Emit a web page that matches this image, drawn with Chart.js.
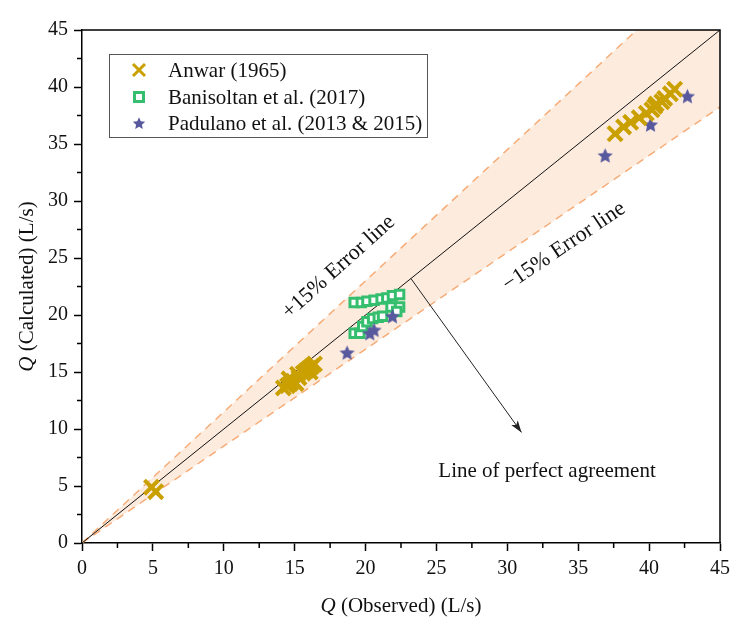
<!DOCTYPE html>
<html>
<head>
<meta charset="utf-8">
<script src="https://cdn.jsdelivr.net/npm/chart.js@4.4.1/dist/chart.umd.min.js"></script>
<style>
  body { margin: 0; background: #fff; }
  canvas { display: block; }
</style>
</head>
<body>
<canvas id="myChart" width="736" height="626"></canvas>
<script>

// data
var anwarX = [4.9, 5.2, 14.2, 14.5, 14.7, 14.9, 15.1, 15.3, 15.6, 15.8, 16.0, 16.2, 16.4, 16.1, 14.6, 15.2,
  37.6, 38.2, 38.7, 39.3, 39.8, 40.2, 40.5, 40.9, 41.1, 41.5, 41.8, 40.4];
var anwarY = [4.9, 4.5, 13.6, 13.8, 14.0, 14.2, 14.0, 14.5, 14.9, 15.1, 15.3, 15.5, 15.7, 15.0, 14.4, 14.8,
  35.9, 36.5, 36.9, 37.3, 37.7, 38.0, 38.5, 38.7, 39.0, 39.4, 39.8, 38.3];

var banisoltanX = [19.2, 19.7, 20.1, 20.6, 21.1, 21.5, 21.9, 22.4, 19.2, 19.6, 19.8, 20.1, 20.5, 20.9, 21.2, 21.8, 22.4, 22.2];
var banisoltanY = [21.1, 21.1, 21.2, 21.3, 21.4, 21.5, 21.7, 21.8, 18.4, 18.4, 19.0, 19.4, 19.7, 19.8, 19.9, 20.7, 20.7, 20.3];

var padulanoX = [18.7, 20.3, 20.6, 21.9, 36.9, 40.1, 42.7];
var padulanoY = [16.7, 18.4, 18.7, 19.9, 34.0, 36.7, 39.2];

var seriesNames = ["Anwar (1965)", "Banisoltan et al. (2017)", "Padulano et al. (2013 & 2015)"];

// reference lines
var lineX = [0, 45];
var perfectY = [0, 45];
var upperY = [0, 51.75];   // +15 %
var lowerY = [0, 38.25];   // -15 %

var arrowFrom = [23.2, 23.2];
var arrowTo = [31.0, 9.7];

var xTicks = [0, 5, 10, 15, 20, 25, 30, 35, 40, 45];
var yTicks = [0, 5, 10, 15, 20, 25, 30, 35, 40, 45];

var FONT = "'Liberation Serif', 'Times New Roman', serif";
var gold = "rgb(201,160,0)";
var green = "rgb(52,190,110)";
var blue = "rgb(88,88,158)";
var bandLine = "rgb(246,172,120)";

function pts(xs, ys) {
  var out = [];
  for (var i = 0; i < xs.length; i++) {
    out.push({ x: xs[i], y: ys[i] });
  }
  return out;
}

function makeStar(size, color) {
  var c = document.createElement("canvas");
  c.width = size; c.height = size;
  var g = c.getContext("2d");
  var cx = size / 2, cy = size / 2 + 0.7, R = size / 2 - 0.5, r = R * 0.47;
  g.beginPath();
  for (var i = 0; i < 10; i++) {
    var a = -Math.PI / 2 + i * Math.PI / 5;
    var rr = (i % 2 === 0) ? R : r;
    var px = cx + rr * Math.cos(a), py = cy + rr * Math.sin(a);
    if (i === 0) g.moveTo(px, py); else g.lineTo(px, py);
  }
  g.closePath();
  g.fillStyle = color;
  g.fill();
  return c;
}

var starImg = makeStar(17, blue);
var starSmall = makeStar(14, blue);

var extras = {
  id: "extras",
  afterDraw: function (chart) {
    var ctx = chart.ctx;
    var a = chart.chartArea;
    var xs = chart.scales.x, ys = chart.scales.y;
    ctx.save();

    // frame top/right
    ctx.strokeStyle = "#000";
    ctx.lineWidth = 1.5;
    ctx.beginPath();
    ctx.moveTo(a.left, a.top);
    ctx.lineTo(a.right, a.top);
    ctx.lineTo(a.right, a.bottom);
    ctx.stroke();

    // minor ticks
    ctx.lineWidth = 1.5;
    ctx.beginPath();
    for (var v = 2.5; v < 45; v += 5) {
      var px = xs.getPixelForValue(v);
      ctx.moveTo(px, a.bottom);
      ctx.lineTo(px, a.bottom + 5);
      var py = ys.getPixelForValue(v);
      ctx.moveTo(a.left, py);
      ctx.lineTo(a.left - 5, py);
    }
    ctx.stroke();

    // arrow
    var x1 = xs.getPixelForValue(arrowFrom[0]), y1 = ys.getPixelForValue(arrowFrom[1]);
    var x2 = xs.getPixelForValue(arrowTo[0]), y2 = ys.getPixelForValue(arrowTo[1]);
    ctx.strokeStyle = "#222";
    ctx.lineWidth = 1;
    ctx.beginPath();
    ctx.moveTo(x1, y1);
    ctx.lineTo(x2, y2);
    ctx.stroke();
    var ang = Math.atan2(y2 - y1, x2 - x1);
    ctx.fillStyle = "#222";
    ctx.beginPath();
    ctx.moveTo(x2, y2);
    ctx.lineTo(x2 - 12 * Math.cos(ang) + 4 * Math.sin(ang), y2 - 12 * Math.sin(ang) - 4 * Math.cos(ang));
    ctx.lineTo(x2 - 9 * Math.cos(ang), y2 - 9 * Math.sin(ang));
    ctx.lineTo(x2 - 12 * Math.cos(ang) - 4 * Math.sin(ang), y2 - 12 * Math.sin(ang) + 4 * Math.cos(ang));
    ctx.closePath();
    ctx.fill();

    // annotations
    ctx.fillStyle = "#111";
    ctx.textAlign = "center";
    ctx.textBaseline = "middle";
    ctx.font = "22px " + FONT;
    ctx.save();
    ctx.translate(xs.getPixelForValue(18.1), ys.getPixelForValue(24.2));
    ctx.rotate(-42 * Math.PI / 180);
    ctx.fillText("+15% Error line", 0, 0);
    ctx.restore();

    ctx.save();
    ctx.translate(xs.getPixelForValue(34.0), ys.getPixelForValue(26.0));
    ctx.rotate(-34 * Math.PI / 180);
    ctx.fillText("\u221215% Error line", 0, 0);
    ctx.restore();

    ctx.font = "21px " + FONT;
    ctx.fillText("Line of perfect agreement", xs.getPixelForValue(32.8), ys.getPixelForValue(6.3));

    // axis titles
    function mixed(text1, text2, cx, cy) {
      ctx.font = "italic 21px " + FONT;
      var w1 = ctx.measureText(text1).width;
      ctx.font = "21px " + FONT;
      var w2 = ctx.measureText(text2).width;
      var sx = cx - (w1 + w2) / 2;
      ctx.textAlign = "left";
      ctx.font = "italic 21px " + FONT;
      ctx.fillText(text1, sx, cy);
      ctx.font = "21px " + FONT;
      ctx.fillText(text2, sx + w1, cy);
    }
    mixed("Q", " (Observed) (L/s)", (a.left + a.right) / 2, 606);
    ctx.save();
    ctx.translate(27, (a.top + a.bottom) / 2);
    ctx.rotate(-Math.PI / 2);
    mixed("Q", " (Calculated) (L/s)", 0, 0);
    ctx.restore();

    // legend
    var lx = 109, ly = 54, lw = 318, lh = 83;
    ctx.fillStyle = "#fff";
    ctx.fillRect(lx, ly, lw, lh);
    ctx.strokeStyle = "#555";
    ctx.lineWidth = 1;
    ctx.strokeRect(lx + 0.5, ly + 0.5, lw, lh);

    var mx = 139;
    var rows = [70, 97, 123];
    // X marker
    ctx.strokeStyle = gold;
    ctx.lineWidth = 3;
    ctx.beginPath();
    ctx.moveTo(mx - 6, rows[0] - 6); ctx.lineTo(mx + 6, rows[0] + 6);
    ctx.moveTo(mx + 6, rows[0] - 6); ctx.lineTo(mx - 6, rows[0] + 6);
    ctx.stroke();
    // square marker
    ctx.strokeStyle = green;
    ctx.lineWidth = 3;
    ctx.strokeRect(mx - 4.5, rows[1] - 4.5, 9, 9);
    // star marker
    ctx.drawImage(starSmall, mx - 7, rows[2] - 7);

    ctx.fillStyle = "#111";
    ctx.textAlign = "left";
    ctx.font = "21px " + FONT;
    for (var k = 0; k < seriesNames.length; k++) {
      ctx.fillText(seriesNames[k], 168, rows[k] + 1);
    }

    ctx.restore();
  }
};

var ctx = document.getElementById("myChart").getContext("2d");
var chart = new Chart(ctx, {
  type: "scatter",
  data: {
    datasets: [
      {
        label: seriesNames[0],
        data: pts(anwarX, anwarY),
        pointStyle: "crossRot",
        pointRadius: 10,
        pointBorderWidth: 4,
        borderColor: gold,
        backgroundColor: gold,
        order: 1
      },
      {
        label: seriesNames[2],
        data: pts(padulanoX, padulanoY),
        pointStyle: starImg,
        pointRadius: 8,
        order: 2
      },
      {
        label: seriesNames[1],
        data: pts(banisoltanX, banisoltanY),
        pointStyle: "rect",
        pointRadius: 6,
        pointBorderWidth: 3,
        borderColor: green,
        backgroundColor: "#fff",
        order: 3
      },
      {
        type: "line",
        label: "perfect",
        data: pts(lineX, perfectY),
        borderColor: "#111",
        borderWidth: 1,
        pointRadius: 0,
        fill: false,
        order: 5
      },
      {
        type: "line",
        label: "upper",
        data: pts(lineX, upperY),
        borderColor: bandLine,
        borderWidth: 1.5,
        borderDash: [8, 6],
        pointRadius: 0,
        fill: false,
        order: 6
      },
      {
        type: "line",
        label: "lower",
        data: pts(lineX, lowerY),
        borderColor: bandLine,
        borderWidth: 1.5,
        borderDash: [8, 6],
        pointRadius: 0,
        fill: "-1",
        backgroundColor: "rgba(250,200,160,0.35)",
        order: 7
      }
    ]
  },
  options: {
    responsive: false,
    animation: false,
    devicePixelRatio: 1,
    layout: { padding: { top: 30, right: 14, left: 0, bottom: 0 } },
    plugins: {
      legend: { display: false },
      tooltip: { enabled: false }
    },
    scales: {
      x: {
        type: "linear",
        min: 0,
        max: 45,
        afterBuildTicks: function (scale) {
          scale.ticks = xTicks.map(function (v) { return { value: v }; });
        },
        afterFit: function (scale) { scale.height = 83; },
        grid: { display: true, drawOnChartArea: false, drawTicks: true, tickLength: 8, tickColor: "#000", tickWidth: 1.5 },
        border: { display: true, color: "#000", width: 1.5 },
        ticks: { color: "#111", padding: 6, maxRotation: 0, font: { family: FONT, size: 20 } }
      },
      y: {
        type: "linear",
        min: 0,
        max: 45,
        afterBuildTicks: function (scale) {
          scale.ticks = yTicks.map(function (v) { return { value: v }; });
        },
        afterFit: function (scale) { scale.width = 82; },
        grid: { display: true, drawOnChartArea: false, drawTicks: true, tickLength: 8, tickColor: "#000", tickWidth: 1.5 },
        border: { display: true, color: "#000", width: 1.5 },
        ticks: { color: "#111", padding: 6, font: { family: FONT, size: 20 } }
      }
    }
  },
  plugins: [extras]
});
</script>
</body>
</html>
